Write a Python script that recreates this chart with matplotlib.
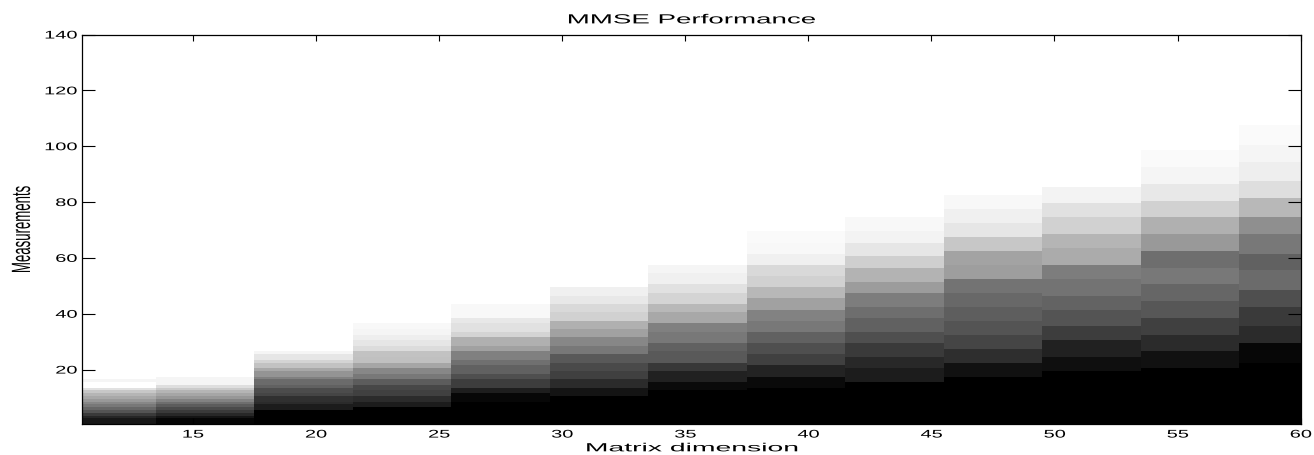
import numpy as np
import matplotlib
matplotlib.use("Agg")
import matplotlib.pyplot as plt
from matplotlib.patheffects import AbstractPathEffect
from matplotlib.transforms import Affine2D

plt.rcParams['font.family'] = ['Liberation Sans', 'DejaVu Sans']

# centre of each image column (matrix dimension axis) and column width
dims = [11.5, 15.5, 19.5, 23.5, 27.5, 31.5, 35.5, 39.5, 43.5, 47.5, 51.5, 55.5, 59.5]
col_w = 4

# band edges (measurements, bottom -> top) and grey level of each band
edges_01 = [0.5, 2.5, 3.5, 4.5, 5.5, 6.5, 7.5, 8.5, 9.5, 10.5, 11.5, 12.5, 13.5, 15.5, 16.5]
gray_01 = [0.09, 0.15, 0.23, 0.33, 0.40, 0.47, 0.53, 0.60, 0.66, 0.71, 0.78, 0.88, 1.0, 0.96]
edges_02 = [0.5, 2.5, 3.5, 4.5, 5.5, 6.5, 7.5, 8.5, 9.5, 10.5, 11.5, 12.5, 13.5, 14.5, 17.5]
gray_02 = [0.02, 0.08, 0.16, 0.23, 0.29, 0.36, 0.43, 0.51, 0.59, 0.65, 0.71, 0.79, 0.87, 0.96]
edges_03 = [0.5, 5.5, 7.5, 8.5, 10.5, 11.5, 13.5, 14.5, 16.5, 17.5, 19.5, 20.5, 22.5, 23.5, 25.5, 26.5]
gray_03 = [0.0, 0.11, 0.17, 0.19, 0.27, 0.30, 0.38, 0.42, 0.50, 0.58, 0.66, 0.76, 0.83, 0.90, 0.96]
edges_04 = [0.5, 6.5, 8.5, 10.5, 12.5, 14.5, 16.5, 18.5, 20.5, 22.5, 24.5, 26.5, 28.5, 30.5, 32.5, 34.5, 36.5]
gray_04 = [0.0, 0.11, 0.17, 0.25, 0.28, 0.36, 0.47, 0.53, 0.65, 0.75, 0.76, 0.86, 0.90, 0.93, 0.96, 0.97]
edges_05 = [0.5, 8.5, 11.5, 13.5, 16.5, 18.5, 21.5, 23.5, 26.5, 28.5, 31.5, 33.5, 36.5, 38.5, 41.5, 43.5]
gray_05 = [0.0, 0.03, 0.12, 0.24, 0.31, 0.38, 0.44, 0.50, 0.63, 0.69, 0.83, 0.88, 0.91, 0.97, 0.97]
edges_06 = [0.5, 10.5, 13.5, 16.5, 19.5, 22.5, 25.5, 28.5, 31.5, 34.5, 37.5, 40.5, 43.5, 46.5, 49.5]
gray_06 = [0.0, 0.08, 0.17, 0.25, 0.29, 0.35, 0.47, 0.53, 0.63, 0.69, 0.82, 0.85, 0.91, 0.94]
edges_07 = [0.5, 12.5, 15.5, 19.5, 22.5, 26.5, 29.5, 33.5, 36.5, 40.5, 43.5, 47.5, 50.5, 54.5, 57.5]
gray_07 = [0.0, 0.04, 0.13, 0.22, 0.35, 0.38, 0.47, 0.50, 0.66, 0.72, 0.83, 0.88, 0.94, 0.96]
edges_08 = [0.5, 13.5, 17.5, 21.5, 25.5, 29.5, 33.5, 37.5, 41.5, 45.5, 49.5, 53.5, 57.5, 61.5, 65.5, 69.5]
gray_08 = [0.0, 0.04, 0.14, 0.25, 0.31, 0.38, 0.47, 0.51, 0.63, 0.72, 0.82, 0.85, 0.94, 0.97, 0.98]
edges_09 = [0.5, 15.5, 20.5, 24.5, 29.5, 33.5, 38.5, 42.5, 47.5, 51.5, 56.5, 60.5, 65.5, 69.5, 74.5]
gray_09 = [0.0, 0.11, 0.16, 0.23, 0.31, 0.38, 0.43, 0.49, 0.61, 0.70, 0.81, 0.90, 0.95, 0.97]
edges_10 = [0.5, 17.5, 22.5, 27.5, 32.5, 37.5, 42.5, 47.5, 52.5, 57.5, 62.5, 67.5, 72.5, 77.5, 82.5]
gray_10 = [0.0, 0.07, 0.18, 0.27, 0.33, 0.37, 0.41, 0.45, 0.62, 0.64, 0.78, 0.90, 0.94, 0.97]
edges_11 = [0.5, 19.5, 24.5, 30.5, 35.5, 41.5, 46.5, 52.5, 57.5, 63.5, 68.5, 74.5, 79.5, 85.5]
gray_11 = [0.0, 0.06, 0.13, 0.24, 0.33, 0.39, 0.45, 0.49, 0.67, 0.71, 0.82, 0.88, 0.95]
edges_12 = [0.5, 20.5, 26.5, 32.5, 38.5, 44.5, 50.5, 56.5, 62.5, 68.5, 74.5, 80.5, 86.5, 92.5, 98.5]
gray_12 = [0.0, 0.07, 0.17, 0.25, 0.34, 0.40, 0.47, 0.43, 0.60, 0.69, 0.82, 0.91, 0.96, 0.98]
edges_13 = [0.5, 22.5, 29.5, 35.5, 42.5, 48.5, 55.5, 61.5, 68.5, 74.5, 81.5, 87.5, 94.5, 100.5, 107.5]
gray_13 = [0.0, 0.03, 0.17, 0.23, 0.31, 0.42, 0.38, 0.47, 0.56, 0.72, 0.87, 0.93, 0.96, 0.98]

band_edges = [edges_01, edges_02, edges_03, edges_04, edges_05, edges_06, edges_07,
              edges_08, edges_09, edges_10, edges_11, edges_12, edges_13]
band_gray = [gray_01, gray_02, gray_03, gray_04, gray_05, gray_06, gray_07,
             gray_08, gray_09, gray_10, gray_11, gray_12, gray_13]

x_ticks = [15, 20, 25, 30, 35, 40, 45, 50, 55, 60]
y_ticks = [20, 40, 60, 80, 100, 120, 140]
y_max = 140.5


class XStretch(AbstractPathEffect):
    # widen text horizontally (the original figure was stretched sideways)
    def __init__(self, sx, anchor="center"):
        super().__init__()
        self.sx = sx
        self.anchor = anchor

    def draw_path(self, renderer, gc, tpath, affine, rgbFace=None):
        v = affine.transform(tpath.vertices)
        if len(v):
            x0, x1 = v[:, 0].min(), v[:, 0].max()
            xa = x1 if self.anchor == "right" else 0.5 * (x0 + x1)
            affine = affine + Affine2D().translate(-xa, 0).scale(self.sx, 1).translate(xa, 0)
        renderer.draw_path(gc, tpath, affine, rgbFace)


fig = plt.figure(figsize=(13.14, 4.55), dpi=100)
ax = fig.add_axes([82 / 1314, 1 - 424 / 455, 1218.7 / 1314, 389.5 / 455])

for xc, ed, gr in zip(dims, band_edges, band_gray):
    ye = np.array(ed + [y_max])
    C = np.array(gr + [1.0])[:, None]
    ax.pcolormesh([xc - col_w / 2, xc + col_w / 2], ye, C, cmap='gray',
                  vmin=0, vmax=1, shading='flat', antialiased=False)

ax.set_xlim(10.5, 60)
ax.set_ylim(0.5, 140)
ax.set_xticks(x_ticks)
ax.set_yticks(y_ticks)
for s in ax.spines.values():
    s.set_linewidth(0.9)
    s.set_zorder(5)

ax.tick_params(axis='both', direction='in', top=True, right=True,
               labelsize=8, width=0.8, colors='k')
ax.tick_params(axis='y', length=9.4, pad=3.5)
ax.tick_params(axis='x', length=4.3, pad=4.0)
for lab in ax.get_xticklabels():
    lab.set_path_effects([XStretch(1.8)])
for lab in ax.get_yticklabels():
    lab.set_path_effects([XStretch(1.8, "right")])

ax.set_title('MMSE Performance', fontsize=9.5, pad=8.0, path_effects=[XStretch(2.1)])
ax.set_xlabel('Matrix dimension', fontsize=8.5, path_effects=[XStretch(2.4)])
ax.xaxis.set_label_coords(0.5, -0.047)
ax.set_ylabel('Measurements', fontsize=9.5, path_effects=[XStretch(2.0)])
ax.yaxis.set_label_coords(-59.5 / 1218.7, 0.5)
ax.yaxis.label.set_va('center')

fig.savefig('out.png', dpi=100)
